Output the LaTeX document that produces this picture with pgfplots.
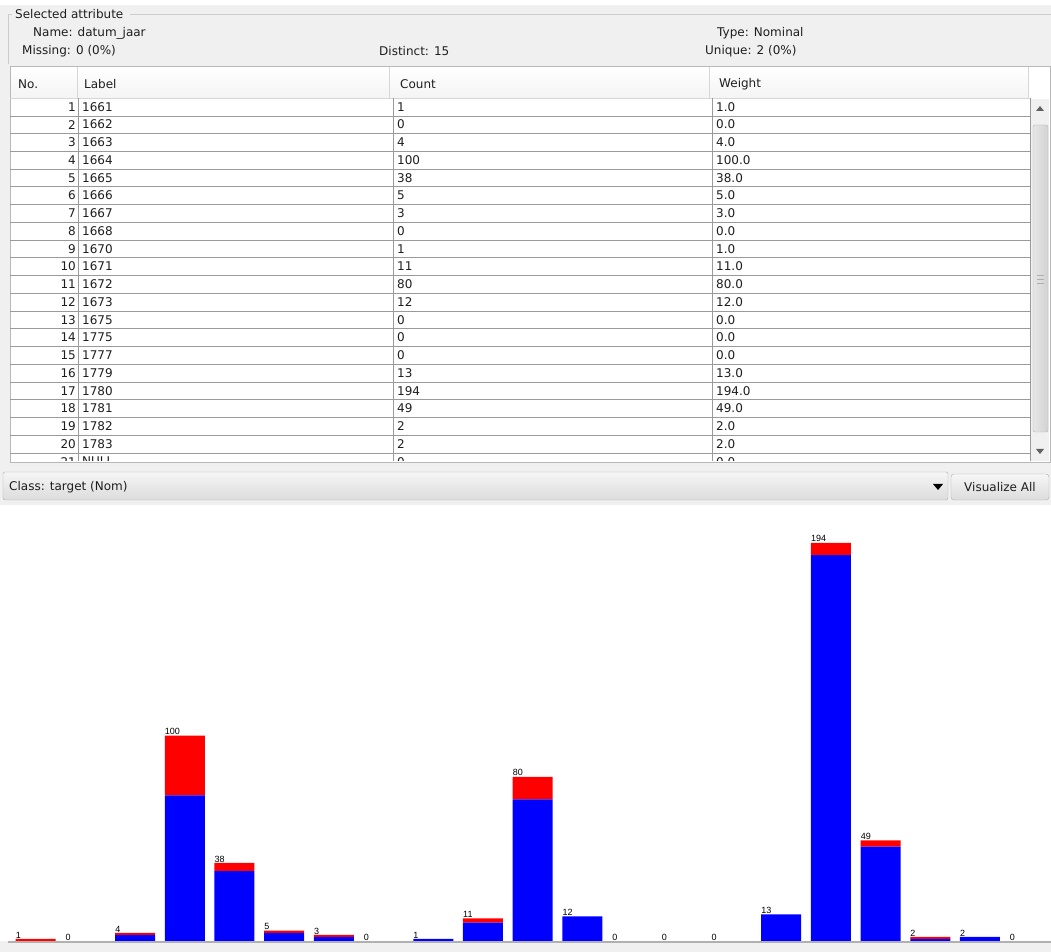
\documentclass[border=0pt]{standalone}
\usepackage{fontspec}
\setmainfont{DejaVu Sans}
\newfontfamily\lab{Liberation Sans}
\usepackage{pgfplots}
\pgfplotsset{compat=1.18}
\usepackage{pgfplotstable}

\definecolor{uibg}{HTML}{F0F0F0}
\definecolor{gridc}{HTML}{9A9A9A}
\definecolor{txt}{HTML}{1E1E1E}
\definecolor{wblue}{HTML}{0000FF}
\definecolor{wred}{HTML}{FF0000}
\definecolor{baseln}{HTML}{B0B0B0}
\definecolor{hdrbot}{HTML}{F4F4F4}
\definecolor{sbl}{HTML}{E6E6E6}
\definecolor{sbr}{HTML}{D2D2D2}
\definecolor{sbd}{HTML}{B4B4B4}
\definecolor{btop}{HTML}{F6F6F6}
\definecolor{bbot}{HTML}{DCDCDC}
\definecolor{bdraw}{HTML}{ACACAC}

\pgfplotstableread{
x blue red total
0 0 1 1
1 0 0 0
2 3 1 4
3 71 29 100
4 34 4 38
5 4 1 5
6 2 1 3
7 0 0 0
8 1 0 1
9 9 2 11
10 69 11 80
11 12 0 12
12 0 0 0
13 0 0 0
14 0 0 0
15 13 0 13
16 188 6 194
17 46 3 49
18 1 1 2
19 2 0 2
20 0 0 0
}\datatable

\pgfplotsset{chartframe/.style={
  at={(0pt,11pt)}, anchor=south west,
  scale only axis, width=1051pt, height=436pt,
  xmin=-0.718, xmax=20.429, ymin=0, ymax=212.4,
  axis lines=none, xtick=\empty, ytick=\empty, clip=false}}

\begin{document}
\begin{tikzpicture}
\path[use as bounding box] (0pt,0pt) rectangle (1051pt,952pt);
\begin{scope}[x=1pt, y=-1pt, shift={(0pt,952pt)}, every node/.style={font=\fontsize{12}{14}\selectfont, text=txt, inner sep=0pt}]
  % backgrounds
  \fill[uibg] (0,0) rectangle (1051,505);
  \fill[white] (0,0) rectangle (1051,5);
  \fill[white] (0,505) rectangle (1051,941);
  \fill[uibg] (0,941) rectangle (1051,952);
  \draw[color=baseln, line width=2pt] (8,942) -- (1051,942);
  % titled border
  \draw[color=gridc!50] (8,14) -- (12,14);
  \draw[color=gridc!50] (130,14) -- (1051,14);
  \draw[color=gridc!50] (8,14) -- (8,64);
  \node[anchor=west] at (15,14) {Selected attribute};
  \node[anchor=west] at (33,33) {Name: datum\_jaar};
  \node[anchor=west] at (22,51) {Missing: 0 (0\%)};
  \node[anchor=west] at (379,51) {Distinct: 15};
  \node[anchor=west] at (717,33) {Type: Nominal};
  \node[anchor=west] at (705,51) {Unique: 2 (0\%)};
  % table
  \fill[white] (10,66) rectangle (1050,462);
  \shade[top color=white, bottom color=hdrbot] (11,67) rectangle (1029,98);
  \draw[color=gridc!70] (10,66) rectangle (1050,462);
  \foreach \xx in {77,389,709,1028} { \draw[color=gridc!40] (\xx,67) -- (\xx,98); }
  \draw[color=gridc!40] (10,98) -- (1030,98);
  \node[anchor=west] at (18,84) {No.};
  \node[anchor=west] at (84,84) {Label};
  \node[anchor=west] at (400,84) {Count};
  \node[anchor=west] at (719,84) {Weight};
  \begin{scope}
    \clip (10,98) rectangle (1031,461);
    \foreach \n/\l/\c/\w in {1/1661/1/1.0, 2/1662/0/0.0, 3/1663/4/4.0, 4/1664/100/100.0, 5/1665/38/38.0, 6/1666/5/5.0, 7/1667/3/3.0, 8/1668/0/0.0, 9/1670/1/1.0, 10/1671/11/11.0, 11/1672/80/80.0, 12/1673/12/12.0, 13/1675/0/0.0, 14/1775/0/0.0, 15/1777/0/0.0, 16/1779/13/13.0, 17/1780/194/194.0, 18/1781/49/49.0, 19/1782/2/2.0, 20/1783/2/2.0, 21/NULL/0/0.0} {
      \pgfmathsetmacro{\yc}{98+17.74*(\n-0.5)}
      \pgfmathsetmacro{\yb}{98+17.74*\n}
      \draw[color=gridc] (10,\yb) -- (1030,\yb);
      \node[anchor=east] at (76,\yc) {\n};
      \node[anchor=west] at (82,\yc) {\l};
      \node[anchor=west] at (397,\yc) {\c};
      \node[anchor=west] at (716,\yc) {\w};
    }
    \foreach \xx in {78,393,712,1030} { \draw[color=gridc] (\xx,98) -- (\xx,462); }
  \end{scope}
  % scrollbar
  \fill[uibg] (1031,99) rectangle (1049,461);
  \fill[txt!70] (1036,111) -- (1044,111) -- (1040,106) -- cycle;
  \fill[txt!70] (1036,449) -- (1044,449) -- (1040,454) -- cycle;
  \shade[left color=sbl, right color=sbr, draw=sbd, rounded corners=2pt] (1033,125) rectangle (1048,432);
  \foreach \gy in {275,279,283} { \draw[color=gridc!80] (1037,\gy) -- (1044,\gy); }
  % class combo
  \shade[top color=btop, bottom color=bbot, draw=bdraw, rounded corners=2pt] (3,472) rectangle (948,500);
  \node[anchor=west] at (9,487) {Class: target (Nom)};
  \fill[black] (933,484) -- (943,484) -- (938,490) -- cycle;
  \shade[top color=btop, bottom color=bbot, draw=bdraw, rounded corners=3pt] (951,474) rectangle (1049,500);
  \node at (1000,487) {Visualize All};
\end{scope}

\begin{axis}[chartframe, ybar stacked, bar width=40pt]
\addplot[fill=wblue, draw=none] table[x=x, y=blue] {\datatable};
\addplot[fill=wred, draw=none] table[x=x, y=red] {\datatable};
\end{axis}

\begin{axis}[chartframe]
\addplot[only marks, mark=none, draw=none,
  nodes near coords={\lab\fontsize{9}{10}\selectfont\pgfmathprintnumber[assume math mode=true]{\pgfplotspointmeta}},
  point meta=explicit,
  every node near coord/.append style={anchor=south west, xshift=-20pt, yshift=0.5pt, inner sep=0pt, text=black}]
  table[x=x, y=total, meta=total] {\datatable};
\end{axis}
\end{tikzpicture}
\end{document}
